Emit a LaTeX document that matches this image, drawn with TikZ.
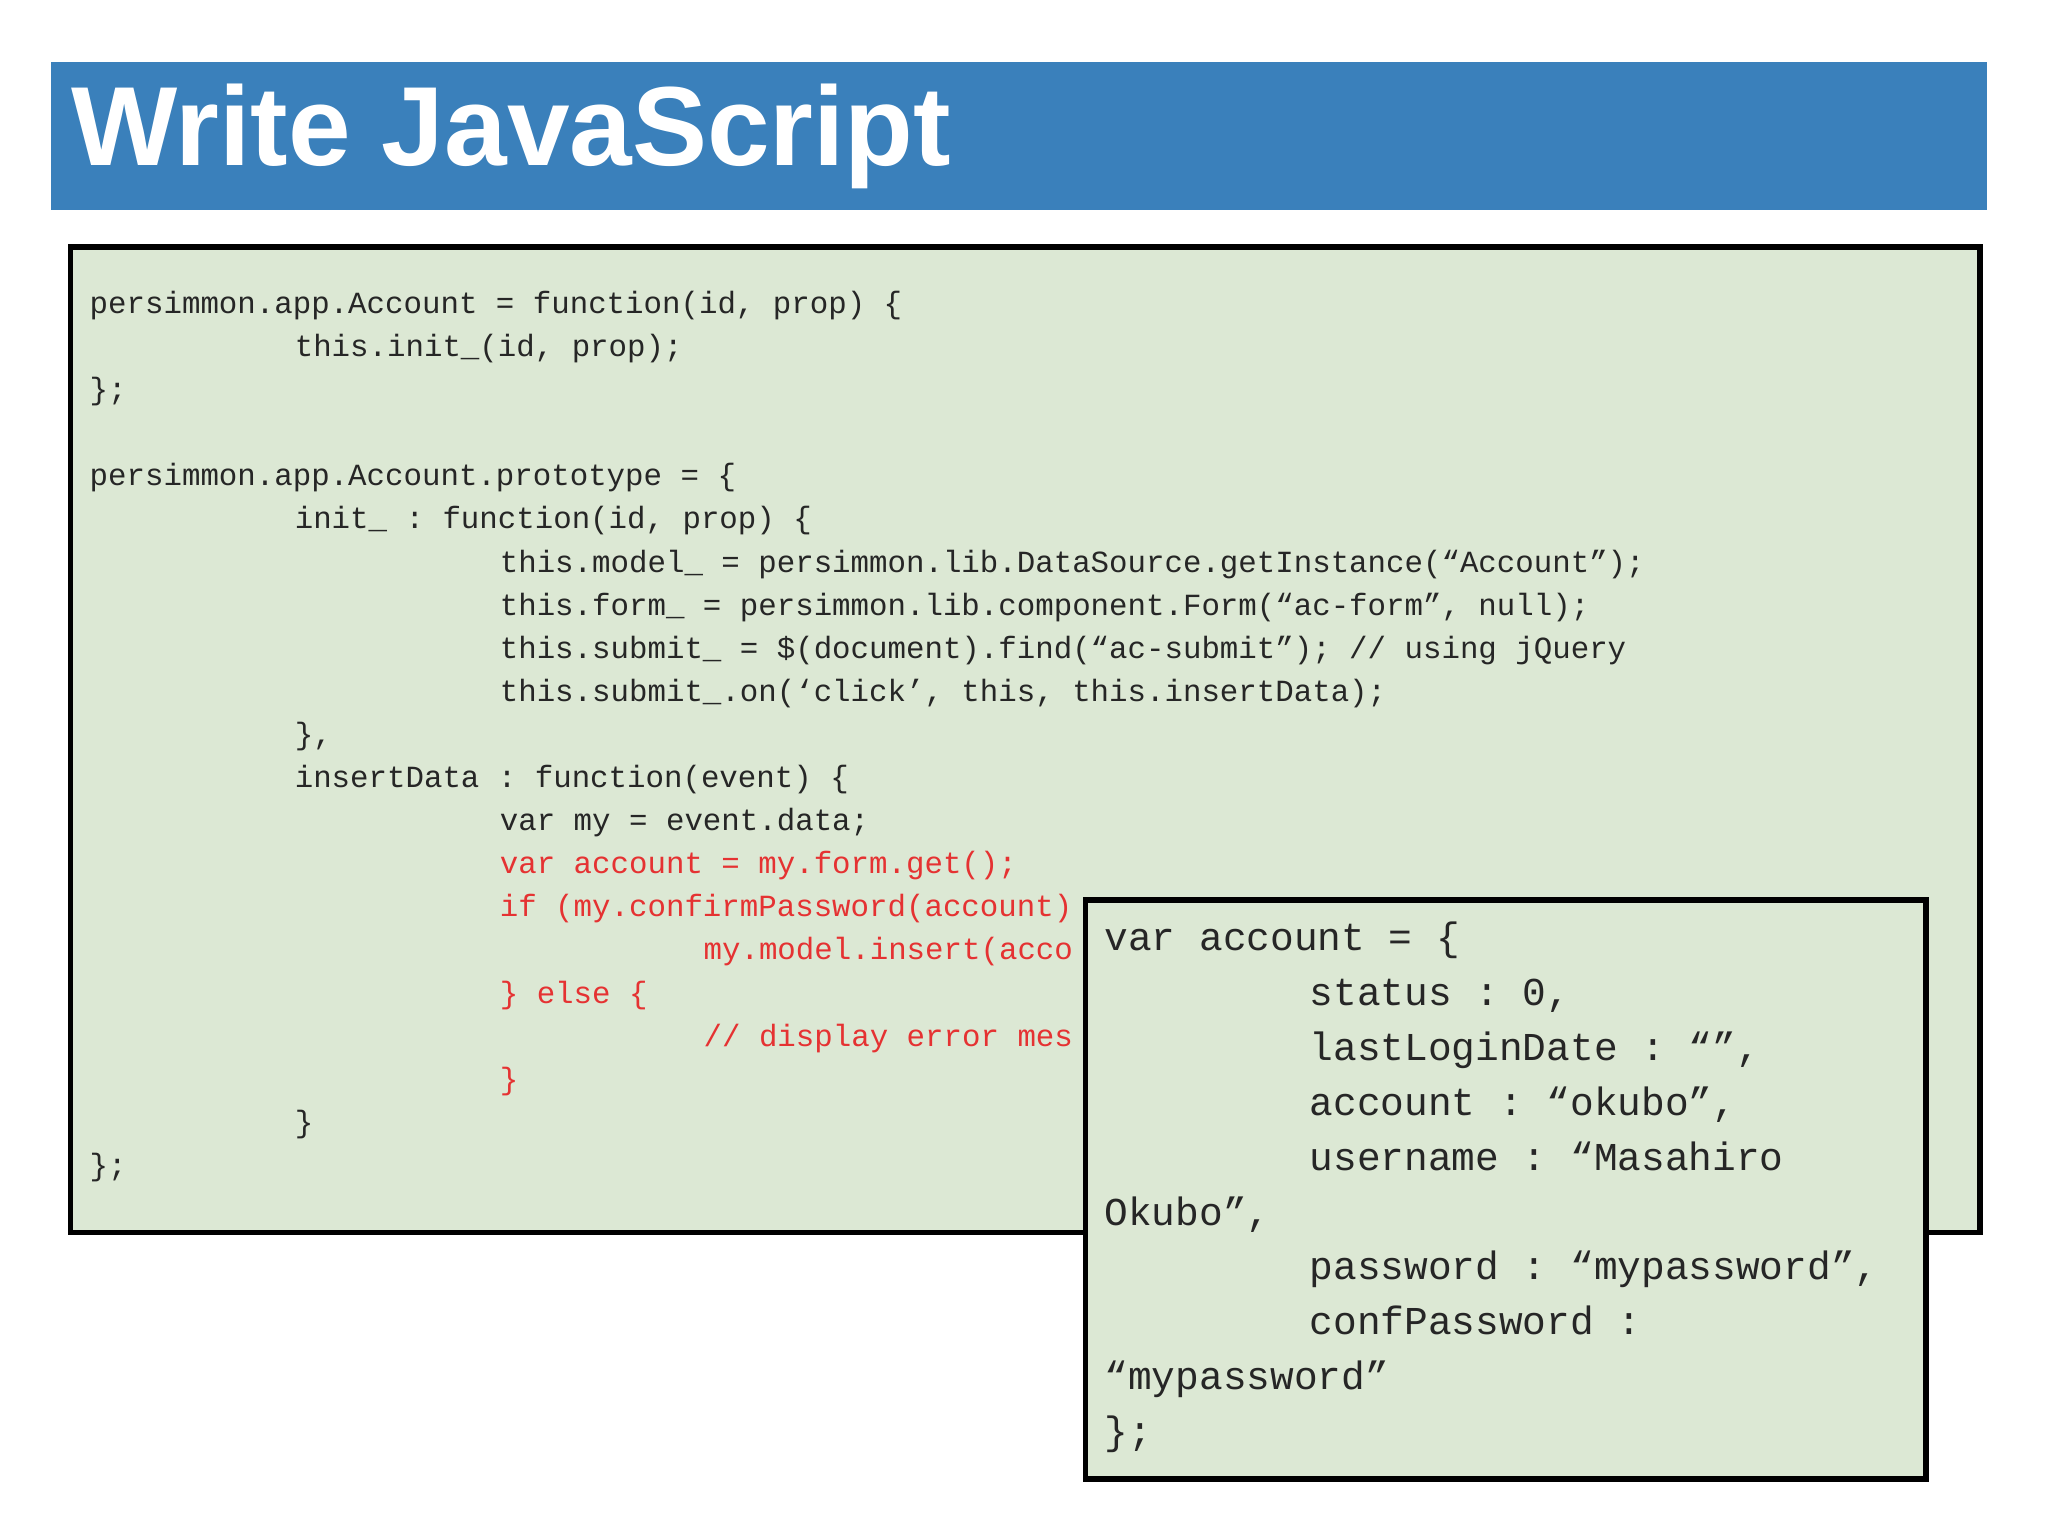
\documentclass[tikz,border=0pt]{standalone}
\usepackage{fontspec}
\setmainfont{Liberation Sans}
\setmonofont{Liberation Mono}
\definecolor{barblue}{HTML}{3A80BB}
\definecolor{boxgreen}{HTML}{DCE8D4}
\definecolor{codered}{HTML}{E53232}
\begin{document}
\begin{tikzpicture}[x=0.01cm,y=-0.01cm,
  cs/.style={anchor=base west,inner sep=0pt,font=\ttfamily\fontsize{6.7}{8}\selectfont,text=black!85},
  cr/.style={cs,text=codered},
  cb/.style={anchor=base west,inner sep=0pt,font=\ttfamily\fontsize{8.6}{10}\selectfont,text=black!85}]
\useasboundingbox (0,0) rectangle (1568,1176);
\fill[white] (0,0) rectangle (1568,1176);
\node[fill=barblue,minimum width=14.82cm,minimum height=1.13cm,anchor=north west,inner sep=0pt] (bar) at (38,47) {};
\node[anchor=base west,inner sep=0pt,text=white,font=\bfseries\fontsize{24.5}{28}\selectfont] (title) at (54,127) {Write JavaScript};
\node[draw=black,line width=1.2pt,fill=boxgreen,minimum width=14.61cm,minimum height=7.54cm,anchor=north west,inner sep=0pt] (box1) at (52,187) {};
\node[cs] (l1) at (68,240) {persimmon.app.Account = function(id, prop) \{};
\node[cs] (l2) at (225,273) {this.init\_(id, prop);};
\node[cs] (l3) at (68,306) {\};};
\node[cs] (l4) at (68,372) {persimmon.app.Account.prototype = \{};
\node[cs] (l5) at (225,405) {init\_ : function(id, prop) \{};
\node[cs] (l6) at (382,438) {this.model\_ = persimmon.lib.DataSource.getInstance(“Account”);};
\node[cs] (l7) at (382,471) {this.form\_ = persimmon.lib.component.Form(“ac-form”, null);};
\node[cs] (l8) at (382,504) {this.submit\_ = \$(document).find(“ac-submit”); // using jQuery};
\node[cs] (l9) at (382,537) {this.submit\_.on(‘click’, this, this.insertData);};
\node[cs] (l10) at (225,570) {\},};
\node[cs] (l11) at (225,603) {insertData : function(event) \{};
\node[cs] (l12) at (382,636) {var my = event.data;};
\node[cr] (l13) at (382,669) {var account = my.form.get();};
\node[cr] (l14) at (382,702) {if (my.confirmPassword(account)};
\node[cr] (l15) at (538,735) {my.model.insert(acco};
\node[cr] (l16) at (382,768) {\} else \{};
\node[cr] (l17) at (538,801) {// display error mes};
\node[cr] (l18) at (382,834) {\}};
\node[cs] (l19) at (225,867) {\}};
\node[cs] (l20) at (68,900) {\};};
\node[draw=black,line width=1.2pt,fill=boxgreen,minimum width=6.43cm,minimum height=4.43cm,anchor=north west,inner sep=0pt] (box2) at (829,687) {};
\node[cb] (m1) at (845,728) {var account = \{};
\node[cb] (m2) at (1002,770) {status : 0,};
\node[cb] (m3) at (1002,812) {lastLoginDate : “”,};
\node[cb] (m4) at (1002,854) {account : “okubo”,};
\node[cb] (m5) at (1002,896) {username : “Masahiro};
\node[cb] (m6) at (845,938) {Okubo”,};
\node[cb] (m7) at (1002,980) {password : “mypassword”,};
\node[cb] (m8) at (1002,1022) {confPassword :};
\node[cb] (m9) at (845,1064) {“mypassword”};
\node[cb] (m10) at (845,1106) {\};};
\end{tikzpicture}
\end{document}
